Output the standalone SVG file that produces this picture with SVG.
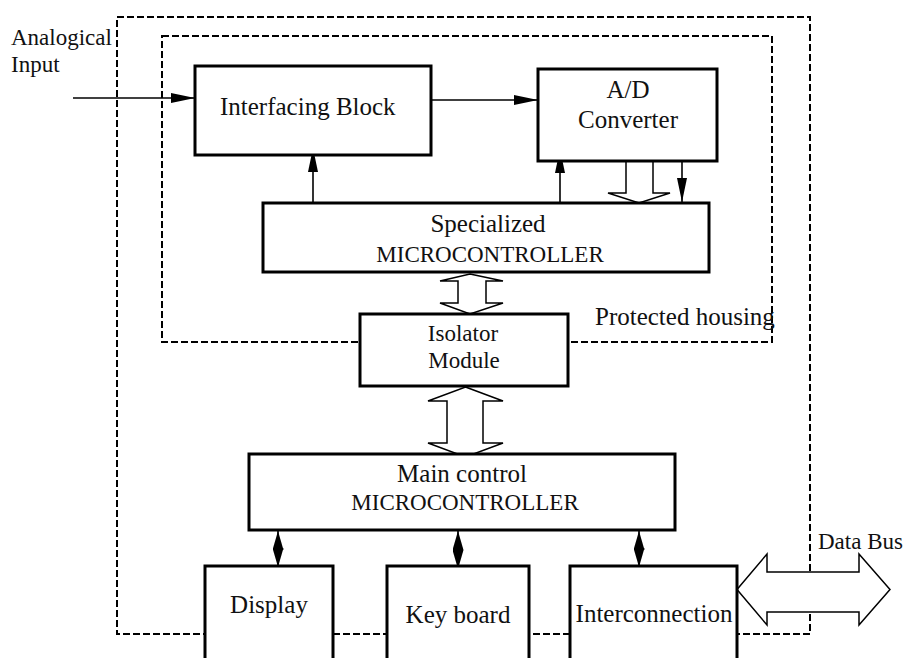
<svg xmlns="http://www.w3.org/2000/svg" width="905" height="658" viewBox="0 0 905 658">
<style>
.box{fill:#fff;stroke:#000;stroke-width:3}
.dash{fill:none;stroke:#000;stroke-width:2;stroke-dasharray:7,3}
.ln{fill:none;stroke:#000;stroke-width:1.6}
.hollow{fill:#fff;stroke:#000;stroke-width:1.5;stroke-linejoin:miter}
text{font-family:"Liberation Serif","Times New Roman",serif;fill:#111;font-size:25px}
.c{text-anchor:middle}
.s{font-size:23px}
</style>
<defs>
<marker id="arr" markerUnits="userSpaceOnUse" markerWidth="24" markerHeight="10" refX="24" refY="5" orient="auto">
<path d="M0,0 L24,5 L0,10 z" fill="#000"/>
</marker>
<marker id="dh" markerUnits="userSpaceOnUse" markerWidth="19" markerHeight="11" refX="19" refY="5.5" orient="auto-start-reverse">
<path d="M0,0 L19,5.5 L0,11 z" fill="#000"/>
</marker>
</defs>

<g id="housings">
<rect class="dash" x="117" y="17" width="693" height="617"/>
<rect class="dash" x="162" y="36" width="610" height="306"/>
</g>

<g id="labels">
<text class="s" x="11" y="45">Analogical</text>
<text class="s" x="11" y="72">Input</text>
<text x="595" y="325">Protected housing</text>
<text class="s" x="818" y="549">Data Bus</text>
</g>

<g id="connectors">
<line class="ln" x1="73" y1="98" x2="195" y2="98" marker-end="url(#arr)"/>
<line class="ln" x1="431" y1="100" x2="538" y2="100" marker-end="url(#arr)"/>
<line class="ln" x1="313" y1="207" x2="313" y2="148" marker-end="url(#arr)"/>
<line class="ln" x1="560" y1="207" x2="560" y2="149" marker-end="url(#arr)"/>
<line class="ln" x1="682" y1="161" x2="682" y2="202" marker-end="url(#arr)"/>
<polygon class="hollow" points="626,161 653,161 653,193 670,193 639,203 608,193 626,193"/>
<polygon class="hollow" points="470,274 503,281 486,281 486,303 503,303 470,314 440,303 458,303 458,281 440,281"/>
<polygon class="hollow" points="465.5,387 503,401 483,401 483,443 503,443 465.5,457 428,443 447,443 447,401 428,401"/>
<line class="ln" x1="278" y1="531" x2="278" y2="567" marker-start="url(#dh)" marker-end="url(#dh)"/>
<line class="ln" x1="458" y1="531" x2="458" y2="569" marker-start="url(#dh)" marker-end="url(#dh)"/>
<line class="ln" x1="639" y1="531" x2="639" y2="567" marker-start="url(#dh)" marker-end="url(#dh)"/>
<polygon class="hollow" points="737,589.5 767,554 767,572 859,572 859,554 890,589.5 859,625 859,612 767,612 767,625"/>
</g>

<g id="interfacing">
<rect class="box" x="195" y="66" width="236" height="89"/>
<text x="220" y="115">Interfacing Block</text>
</g>

<g id="adc">
<rect class="box" x="538" y="69" width="179" height="92"/>
<text class="c" x="628" y="98">A/D</text>
<text class="c" x="628" y="128">Converter</text>
</g>

<g id="specialized">
<rect class="box" x="263" y="203" width="446" height="69"/>
<text class="c" x="488" y="232">Specialized</text>
<text class="c s" x="490" y="262">MICROCONTROLLER</text>
</g>

<g id="isolator">
<rect class="box" x="360" y="314" width="208" height="72"/>
<text class="c s" x="463" y="341">Isolator</text>
<text class="c s" x="464" y="368">Module</text>
</g>

<g id="maincontrol">
<rect class="box" x="249" y="454" width="426" height="76"/>
<text class="c" x="462" y="482">Main control</text>
<text class="c s" x="465" y="510">MICROCONTROLLER</text>
</g>

<g id="display">
<rect class="box" x="205" y="566" width="128" height="110"/>
<text class="c" x="269" y="613">Display</text>
</g>

<g id="keyboard">
<rect class="box" x="387" y="566" width="142" height="110"/>
<text class="c" x="458" y="623">Key board</text>
</g>

<g id="interconnection">
<rect class="box" x="570" y="566" width="167" height="110"/>
<text class="c" x="654" y="622">Interconnection</text>
</g>
</svg>
